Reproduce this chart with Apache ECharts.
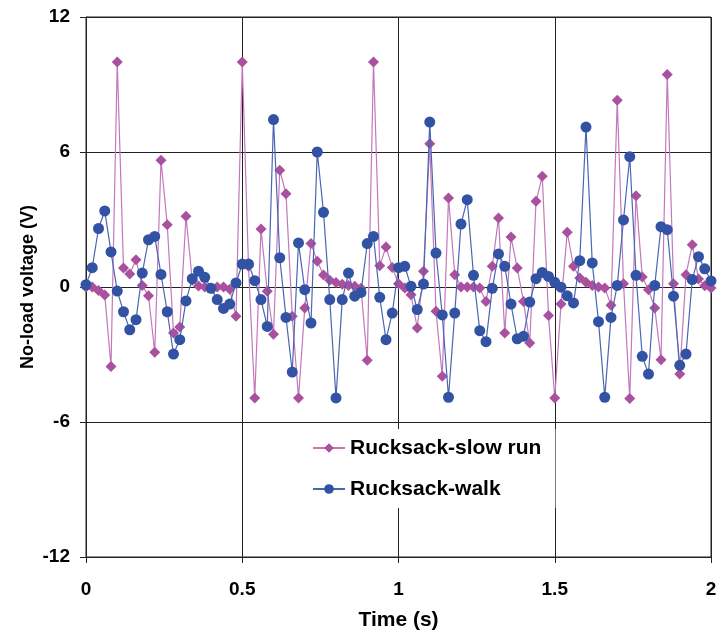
<!DOCTYPE html>
<html>
<head>
<meta charset="utf-8">
<script src="https://cdn.jsdelivr.net/npm/echarts@6/dist/echarts.min.js"></script>
<style>html,body{margin:0;padding:0;background:#fff}#c{width:720px;height:633px}</style>
</head>
<body>
<div id="c"></div>
<script>
// sampling step (s)
const dt = 0.02;
const xTicks = [0, 0.5, 1, 1.5, 2];
const yTicks = [-12, -6, 0, 6, 12];
const slowRun = [
 0, 0.0, -0.15, -0.35, -3.53, 10.0, 0.84, 0.58, 1.21, 0.07,
 -0.39, -2.9, 5.63, 2.77, -2.04, -1.78, 3.14, 0.3, 0.05, 0.0,
 -0.05, 0.0, 0.0, -0.1, -1.3, 10.0, 0.92, -4.93, 2.58, -0.19,
 -2.1, 5.19, 4.15, -1.3, -4.93, -0.93, 1.93, 1.14, 0.53, 0.3,
 0.2, 0.12, 0.07, 0.03, -0.05, -3.26, 10.0, 0.95, 1.78, 0.87,
 0.15, -0.04, -0.34, -1.82, 0.7, 6.37, -1.08, -3.97, 3.96, 0.55,
 0, 0, 0, -0.04, -0.64, 0.92, 3.07, -2.04, 2.22, 0.84,
 -0.64, -2.49, 3.81, 4.92, -1.27, -4.93, -0.76, 2.43, 0.92, 0.4,
 0.21, 0.07, 0, -0.04, -0.81, 8.3, 0.15, -4.96, 4.06, 0.44,
 -0.12, -0.93, -3.23, 9.44, 0.15, -3.87, 0.55, 1.88, 0.36, 0.06,
 -0.04
];
const walk = [
 0.1, 0.86, 2.6, 3.38, 1.56, -0.18, -1.1, -1.9, -1.45, 0.62,
 2.1, 2.25, 0.56, -1.1, -2.98, -2.34, -0.62, 0.37, 0.7, 0.43,
 -0.06, -0.56, -0.95, -0.76, 0.18, 1.02, 1.02, 0.28, -0.56, -1.75,
 7.44, 1.3, -1.35, -3.78, 1.96, -0.12, -1.6, 6.0, 3.32, -0.56,
 -4.93, -0.56, 0.62, -0.41, -0.24, 1.93, 2.25, -0.46, -2.34, -1.16,
 0.86, 0.92, 0.03, -1.0, 0.13, 7.33, 1.51, -1.24, -4.9, -1.16,
 2.8, 3.88, 0.52, -1.94, -2.43, -0.06, 1.47, 0.92, -0.76, -2.3,
 -2.19, -0.67, 0.37, 0.65, 0.47, 0.21, -0.01, -0.39, -0.71, 1.17,
 7.11, 1.07, -1.54, -4.9, -1.35, 0.07, 2.98, 5.79, 0.52, -3.08,
 -3.87, 0.07, 2.68, 2.55, -0.41, -3.48, -2.98, 0.33, 1.35, 0.81,
 0.27
];
const seriesNames = ['Rucksack-slow run', 'Rucksack-walk'];

const pair = arr => arr.map((v, i) => [+(i * dt).toFixed(2), v]);
const font = 'Liberation Sans, Arial, sans-serif';

const chart = echarts.init(document.getElementById('c'), null, {renderer: 'canvas'});
chart.setOption({
  animation: false,
  backgroundColor: '#fff',
  grid: {left: 86, right: 9, top: 17, bottom: 76, show: true, borderColor: '#222', borderWidth: 1,
         containLabel: false, outerBoundsMode: 'none'},
  xAxis: {
    type: 'value', min: xTicks[0], max: xTicks[xTicks.length - 1], interval: 0.5,
    name: 'Time (s)', nameLocation: 'middle', nameGap: 53,
    nameTextStyle: {fontFamily: font, fontWeight: 'bold', fontSize: 21, color: '#000'},
    axisLine: {show: true, onZero: false, lineStyle: {color: '#222', width: 1}},
    axisTick: {show: true, inside: false, length: 6, lineStyle: {color: '#222'}},
    axisLabel: {fontFamily: font, fontWeight: 'bold', fontSize: 19, color: '#000', margin: 23},
    splitLine: {show: true, lineStyle: {color: '#222', width: 1}}
  },
  yAxis: {
    type: 'value', min: yTicks[0], max: yTicks[yTicks.length - 1], interval: 6,
    name: 'No-load voltage (V)', nameLocation: 'middle', nameGap: 49, nameMoveOverlap: false,
    nameTextStyle: {fontFamily: font, fontWeight: 'bold', fontSize: 18, color: '#000'},
    axisLine: {show: true, onZero: false, lineStyle: {color: '#222', width: 1}},
    axisTick: {show: true, inside: false, length: 6, lineStyle: {color: '#222'}},
    axisLabel: {fontFamily: font, fontWeight: 'bold', fontSize: 19, color: '#000', margin: 16},
    splitLine: {show: true, lineStyle: {color: '#222', width: 1}}
  },
  legend: {
    orient: 'vertical', left: 302, top: 429,
    backgroundColor: '#fff', padding: [8, 14, 8, 10],
    itemWidth: 32, itemHeight: 12, itemGap: 19,
    textStyle: {fontFamily: font, fontWeight: 'bold', fontSize: 21, color: '#000', lineHeight: 22},
    data: seriesNames
  },
  series: [
    {
      name: seriesNames[0], type: 'line', data: pair(slowRun),
      symbol: 'diamond', symbolSize: 11,
      lineStyle: {color: '#C378BC', width: 1.2},
      itemStyle: {color: '#A9509F'},
      z: 2
    },
    {
      name: seriesNames[1], type: 'line', data: pair(walk),
      symbol: 'circle', symbolSize: 11,
      lineStyle: {color: '#4A66B3', width: 1.2},
      itemStyle: {color: '#3252A4'},
      z: 3
    }
  ]
});
</script>
</body>
</html>
